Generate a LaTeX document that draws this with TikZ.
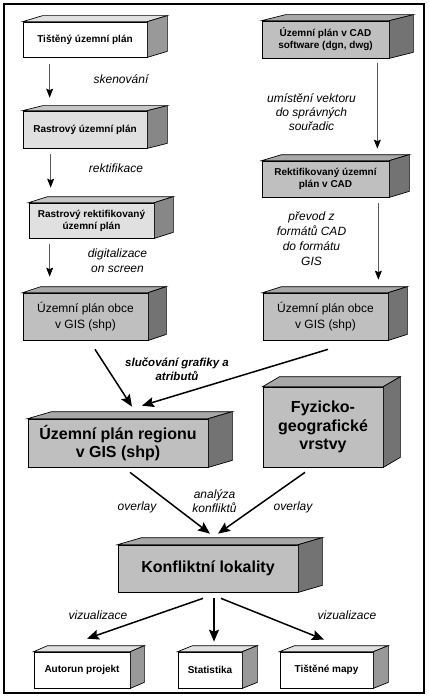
\documentclass[tikz,border=0pt]{standalone}
\usepackage{fontspec}
\setmainfont{Liberation Sans}
\usepackage{tikz}
\usetikzlibrary{arrows.meta,calc}

\definecolor{svetla}{gray}{0.88}
\definecolor{stredni}{gray}{0.75}

\tikzset{
  blok/.style={draw, line width=0.7pt, inner sep=2pt, align=center},
  malypis/.style={font=\fontsize{10}{12}\selectfont\bfseries},
  strednipis/.style={font=\fontsize{12}{15.5}\selectfont},
  velkypis/.style={font=\fontsize{16}{18.5}\selectfont\bfseries},
  popis/.style={align=center, inner sep=0pt, font=\fontsize{12}{15}\selectfont\itshape},
  tenka/.style={draw=black!65, line width=0.8pt, -{Stealth[black, length=9pt, width=7pt, inset=1.5pt]}},
  silna/.style={line width=1.5pt, -{Stealth[length=12pt, width=10pt, inset=2pt]}}
}

% side and top faces of a box: node, depth x, depth y, colour
\newcommand{\kvadr}[4]{%
  \draw[line width=0.7pt, fill=#4!88!black] (#1.north west) -- ++(#2,-#3) -- ($(#1.north east)+(#2,-#3)$) -- (#1.north east) -- cycle;
  \draw[line width=0.7pt, fill=#4!60!black] (#1.north east) -- ++(#2,-#3) -- ($(#1.south east)+(#2,-#3)$) -- (#1.south east) -- cycle;
}

\begin{document}
\begin{tikzpicture}[x=1pt, y=-1pt]
    \useasboundingbox (0,0) rectangle (428,698);
    \draw[line width=1.5pt] (4,4) rectangle (424,693);

    % Left column - scanned plan
    \node[blok, fill=white, malypis, minimum width=124pt, minimum height=35pt] (tisteny) at (85,39.5) {Tištěný územní plán};
    \kvadr{tisteny}{20}{6}{white}
    \node[blok, fill=svetla, malypis, minimum width=124pt, minimum height=37pt] (rastr) at (85,129.5) {Rastrový územní plán};
    \kvadr{rastr}{20}{5}{svetla}
    \node[blok, fill=svetla, malypis, minimum width=125pt, minimum height=35pt] (rektrastr) at (91.5,220.5) {Rastrový rektifikovaný\\územní plán};
    \kvadr{rektrastr}{19}{6}{svetla}
    \node[blok, fill=stredni, strednipis, minimum width=125pt, minimum height=47pt] (obceL) at (85.5,316.5) {Územní plán obce\\v GIS (shp)};
    \kvadr{obceL}{18}{6}{stredni}

    % Right column - CAD plan
    \node[blok, fill=stredni, malypis, minimum width=127pt, minimum height=37pt] (cad) at (325.5,39.5) {Územní plán v CAD\\software (dgn, dwg)};
    \kvadr{cad}{24}{6}{stredni}
    \node[blok, fill=stredni, malypis, minimum width=127pt, minimum height=36pt] (rektcad) at (325.5,179) {Rektifikovaný územní\\plán v CAD};
    \kvadr{rektcad}{20}{6}{stredni}
    \node[blok, fill=stredni, strednipis, minimum width=125pt, minimum height=47pt] (obceP) at (325.5,316.5) {Územní plán obce\\v GIS (shp)};
    \kvadr{obceP}{19}{6}{stredni}

    % Region and physical geography layers
    \node[blok, fill=stredni, velkypis, minimum width=180pt, minimum height=48pt] (region) at (118,443) {Územní plán regionu\\v GIS (shp)};
    \kvadr{region}{24}{7}{stredni}
    \node[blok, fill=stredni, velkypis, minimum width=120pt, minimum height=80pt] (fyzgeo) at (323,427) {Fyzicko-\\geografické\\vrstvy};
    \kvadr{fyzgeo}{17}{10}{stredni}

    % Conflicts and outputs
    \node[blok, fill=stredni, velkypis, minimum width=180pt, minimum height=47pt] (konflikt) at (208,568.5) {Konfliktní lokality};
    \kvadr{konflikt}{24}{7}{stredni}
    \node[blok, fill=white, malypis, minimum width=96pt, minimum height=36pt] (autorun) at (82,670) {Autorun projekt};
    \kvadr{autorun}{14}{6}{white}
    \node[blok, fill=white, malypis, minimum width=64pt, minimum height=36pt] (statistika) at (210,670) {Statistika};
    \kvadr{statistika}{15}{6}{white}
    \node[blok, fill=white, malypis, minimum width=93pt, minimum height=36pt] (mapy) at (326.5,670) {Tištěné mapy};
    \kvadr{mapy}{15}{6}{white}

    % Thin arrows
    \draw[tenka] ([xshift=27pt, yshift=-7pt]tisteny.south west) -- ([xshift=27pt, yshift=13pt]rastr.north west);
    \draw[tenka] ([xshift=28pt, yshift=-6pt]rastr.south west) -- ([xshift=22pt, yshift=15pt]rektrastr.north west);
    \draw[tenka] ([xshift=21pt, yshift=-6pt]rektrastr.south west) -- ([xshift=27pt, yshift=16pt]obceL.north west);
    \draw[tenka] ([xshift=-12pt, yshift=-5pt]cad.south east) -- ([xshift=-12pt, yshift=12pt]rektcad.north east);
    \draw[tenka] ([xshift=-11pt, yshift=-6pt]rektcad.south east) -- ([xshift=-10pt, yshift=13pt]obceP.north east);

    % Thick arrows
    \draw[silna] ([xshift=9.5pt, yshift=-9pt]obceL.south) -- ([xshift=14pt, yshift=12pt]region.north);
    \draw[silna] ([xshift=2.5pt, yshift=-9pt]obceP.south) -- ([xshift=24pt, yshift=13pt]region.north);
    \draw[silna] ([xshift=12pt, yshift=-5pt]region.south) -- ([xshift=2pt, yshift=11pt]konflikt.north);
    \draw[silna] ([xshift=-18pt, yshift=-5pt]fyzgeo.south) -- ([xshift=10pt, yshift=11pt]konflikt.north);
    \draw[silna] ([xshift=-5pt, yshift=-6pt]konflikt.south) -- ([xshift=5pt, yshift=13pt]autorun.north);
    \draw[silna] ([xshift=6pt, yshift=-6pt]konflikt.south) -- ([xshift=4pt, yshift=10pt]statistika.north);
    \draw[silna] ([xshift=13pt, yshift=-6pt]konflikt.south) -- ([xshift=-2.5pt, yshift=12pt]mapy.north);

    % Labels
    \node[popis] (skenovani) at (121,79) {skenování};
    \node[popis] (rektifikace) at (116,168) {rektifikace};
    \node[popis] (digitalizace) at (117.5,260.5) {digitalizace\\on screen};
    \node[popis, font=\fontsize{12}{14}\selectfont\itshape] (umisteni) at (311.5,112) {umístění vektoru\\do správných\\souřadic};
    \node[popis] (prevod) at (311.5,239) {převod z\\formátů CAD\\do formátu\\GIS};
    \node[popis, font=\fontsize{11.5}{14}\selectfont\bfseries\itshape] (slucovani) at (177,369) {slučování grafiky a\\atributů};
    \node[popis] (overlayL) at (137,507) {overlay};
    \node[popis, font=\fontsize{12}{14}\selectfont\itshape] (analyza) at (214.5,501) {analýza\\konfliktů};
    \node[popis] (overlayP) at (293,507) {overlay};
    \node[popis] (vizL) at (98,615) {vizualizace};
    \node[popis] (vizP) at (347,615) {vizualizace};
\end{tikzpicture}
\end{document}
